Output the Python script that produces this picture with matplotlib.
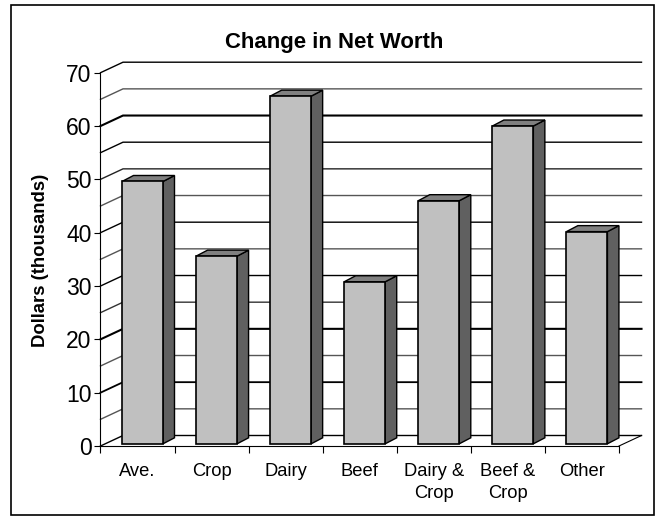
import matplotlib
matplotlib.use('Agg')
import matplotlib.pyplot as plt
from matplotlib.patches import Polygon, Rectangle
import numpy as np

plt.rcParams['font.family'] = ['Liberation Sans', 'DejaVu Sans']

categories = ['Ave.', 'Crop', 'Dairy', 'Beef', 'Dairy &\nCrop', 'Beef &\nCrop', 'Other']
values = [49.6, 35.6, 65.6, 30.8, 46.0, 60.0, 40.2]
grid_levels = [0, 5, 10, 15, 20, 25, 30, 35, 40, 45, 50, 55, 60, 65, 70]
major_ticks = [0, 10, 20, 30, 40, 50, 60, 70]

# wall lines are not all drawn alike in the original
line_colors = {5: '#555555', 15: '#555555', 25: '#333333', 35: '#555555', 45: '#555555', 50: '#222222', 65: '#555555'}
line_widths = {10: 1.3, 20: 1.5, 60: 1.5}

W, H = 661, 516
fig = plt.figure(figsize=(W / 100, H / 100), dpi=100)
fig.patches.append(Rectangle((11 / W, 1 - 515 / H), 643 / W, 510 / H, transform=fig.transFigure,
                             fill=False, edgecolor='black', linewidth=1.2))

ax = fig.add_axes([100.5 / W, 1 - 446 / H, 518.5 / W, 373.3 / H])
n = len(categories)
ax.set_xlim(0, n)
ax.set_ylim(0, 70)
ax.patch.set_visible(False)

# depth of the fake 3d wall and of the bars, in data units
wall_dx = 22.5 / 74.07
wall_dy = 10.5 / 5.333
bar_dx = 11.5 / 74.07
bar_dy = 6 / 5.333
bar_left = 21.5 / 74.07
bar_w = 41 / 74.07
bar_base = 2.2 / 5.333

# wall lines
for v in grid_levels:
    ax.plot([0, wall_dx, n + wall_dx], [v, v + wall_dy, v + wall_dy], color=line_colors.get(v, 'black'),
            lw=line_widths.get(v, 1.0), clip_on=False, zorder=1, solid_joinstyle='miter')
ax.plot([n, n + wall_dx], [0, wall_dy], color='black', lw=0.8, clip_on=False, zorder=1)

# bars
xs = np.arange(n) + bar_left
ax.bar(xs, np.array(values) - bar_base, width=bar_w, bottom=bar_base, align='edge',
       color='#c0c0c0', edgecolor='black', linewidth=1.2, zorder=3)
for x, v in zip(xs, values):
    r = x + bar_w
    side = [(r, bar_base), (r + bar_dx, bar_base + bar_dy), (r + bar_dx, v + bar_dy), (r, v)]
    top = [(x, v), (x + bar_dx, v + bar_dy), (r + bar_dx, v + bar_dy), (r, v)]
    ax.add_patch(Polygon(side, facecolor='#606060', edgecolor='black', linewidth=1.0, zorder=2, clip_on=False))
    ax.add_patch(Polygon(top, facecolor='#808080', edgecolor='black', linewidth=1.0, zorder=2, clip_on=False))

for s in ['top', 'right']:
    ax.spines[s].set_visible(False)
for s in ['left', 'bottom']:
    ax.spines[s].set_linewidth(0.8)

ax.set_yticks(major_ticks)
ax.tick_params(axis='y', labelsize=16.5, length=4, width=0.8, pad=2.5)
ax.set_xticks(np.arange(n + 1))
ax.set_xticklabels([])
ax.set_xticks(np.arange(n) + 0.5, categories, minor=True)
ax.tick_params(axis='x', which='major', length=5, width=0.8)
ax.tick_params(axis='x', which='minor', length=0, labelsize=13.2, pad=12)
for lab in ax.get_xticklabels(minor=True):
    lab.set_linespacing(1.42)

fig.text(334 / W, 1 - 48 / H, 'Change in Net Worth', ha='center', va='baseline', fontsize=15.9, fontweight='bold')
fig.text(41 / W, 1 - 260 / H, 'Dollars (thousands)', ha='center', va='center', rotation=90,
         fontsize=13.3, fontweight='bold')

fig.savefig('out.png', dpi=100)
